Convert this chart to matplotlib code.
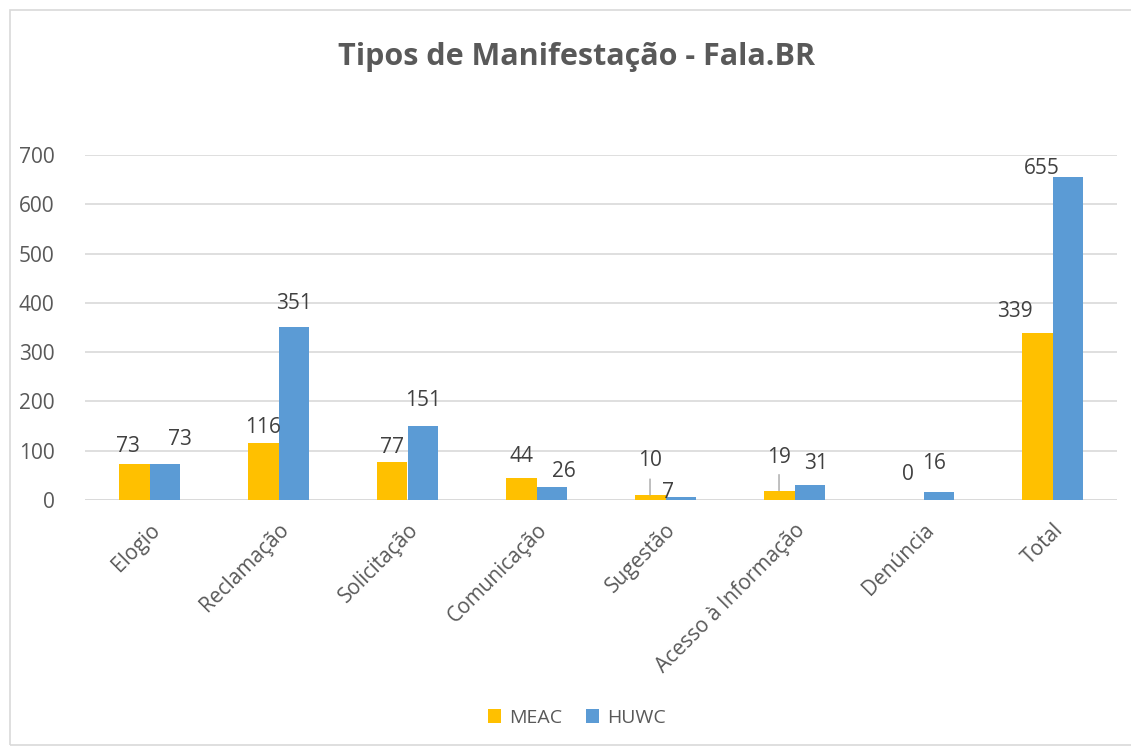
import numpy as np
import matplotlib.pyplot as plt
from matplotlib.patches import Rectangle

categories = ["Elogio", "Reclamação", "Solicitação", "Comunicação", "Sugestão",
              "Acesso à Informação", "Denúncia", "Total"]
meac = [73, 116, 77, 44, 10, 19, 0, 339]
huwc = [73, 351, 151, 26, 7, 31, 16, 655]
series_names = ["MEAC", "HUWC"]
yticks = [0, 100, 200, 300, 400, 500, 600, 700]

# label nudges in pixels (label centre relative to bar top centre), as placed in the original
meac_lbl = [(-6, 18), (0, 15), (0, 15), (0, 22), (0, 35), (0, 33), (0, 25), (-22, 21)]
huwc_lbl = [(15, 25), (0, 24), (0, 25), (12, 16), (-13, 4), (6, 21), (-5, 29), (-26, 9)]

TXT = "#595959"
LBL = "#404040"
C_MEAC = "#FFC000"
C_HUWC = "#5B9BD5"
plt.rcParams["font.family"] = ["Open Sans", "DejaVu Sans"]

fig = plt.figure(figsize=(11.31, 7.49), dpi=100)
fig.patches.append(Rectangle((10 / 1131, 4 / 749), 1.0, 1 - 14 / 749,
                             transform=fig.transFigure, fill=False,
                             edgecolor="#D9D9D9", linewidth=1.2))
ax = fig.add_axes([85 / 1131, 1 - 500 / 749, 1032 / 1131, 345 / 749])

x = np.arange(len(categories))
w = 0.24
b1 = ax.bar(x - w / 2, meac, w, color=C_MEAC, label=series_names[0], zorder=3)
b2 = ax.bar(x + w / 2, huwc, w, color=C_HUWC, label=series_names[1], zorder=3)

ax.set_xlim(-0.5, len(categories) - 0.5)
ax.set_ylim(0, 700)
ax.set_yticks(yticks)
ax.yaxis.grid(True, color="#D9D9D9", linewidth=1.2, zorder=0)
for s in ax.spines.values():
    s.set_visible(False)
ax.axhline(0, color="#D9D9D9", linewidth=1.2, zorder=2)
ax.tick_params(axis="both", length=0, labelsize=15, labelcolor=TXT)
ax.tick_params(axis="y", pad=22)
ax.set_xticks(x)
ax.set_xticklabels(categories, rotation=45, ha="right", rotation_mode="anchor")
ax.tick_params(axis="x", pad=14)

for bars, vals, nudges in ((b1, meac, meac_lbl), (b2, huwc, huwc_lbl)):
    for bar, v, (dx, dy) in zip(bars, vals, nudges):
        cx = bar.get_x() + bar.get_width() / 2
        ax.annotate(str(v), (cx, v), xytext=(dx, dy), textcoords="offset pixels",
                    ha="center", va="center", fontsize=15, color=LBL, zorder=5)

# leader lines for the two labels pulled away from their bars
for i in (4, 5):
    cx = x[i] - w / 2
    ax.annotate("", (cx, meac[i]), xytext=(0, 16), textcoords="offset pixels",
                arrowprops=dict(arrowstyle="-", color="#A6A6A6", lw=1,
                                shrinkA=0, shrinkB=0), zorder=4)

fig.text(0.51, 1 - 57 / 749, "Tipos de Manifestação - Fala.BR", ha="center",
         va="center", fontsize=22, fontweight="bold", color=TXT)

fig.legend(handles=[b1, b2], loc="center", bbox_to_anchor=(0.51, 1 - 718 / 749),
           ncol=2, frameon=False, fontsize=14, labelcolor=TXT,
           handlelength=0.7, handleheight=0.7, columnspacing=1.2, handletextpad=0.4)

fig.savefig("out.png", dpi=100)
